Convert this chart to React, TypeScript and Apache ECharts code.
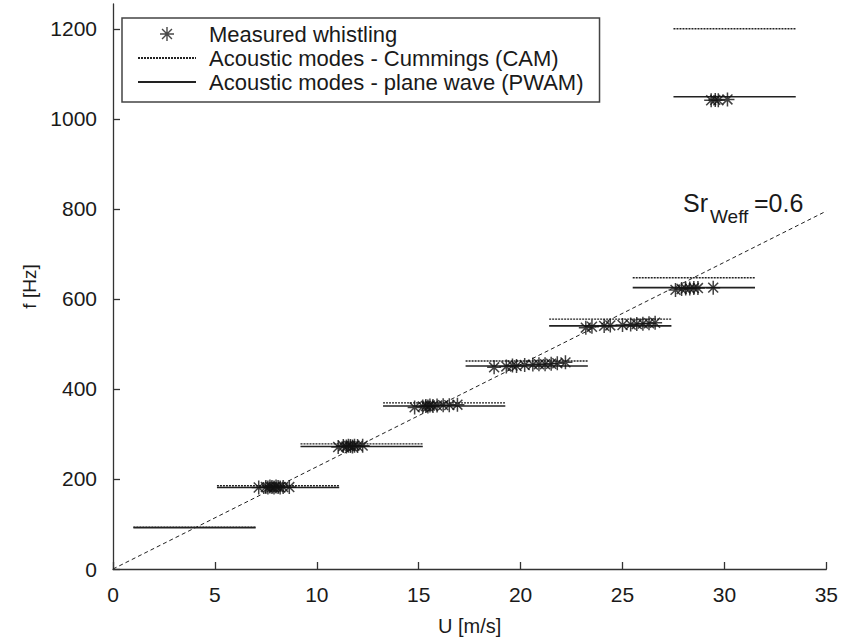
import React, { useEffect, useRef } from "react";
import * as echarts from "echarts";

// Acoustic mode frequency bands: each mode spans a velocity range
const modeUStart = [1.0, 5.1, 9.2, 13.25, 17.3, 21.4, 25.5, 27.5];
const modeUEnd = [7.0, 11.1, 15.2, 19.25, 23.3, 27.4, 31.5, 33.5];
const camFreq = [93, 185, 278, 369, 462, 555, 647, 1200];
const pwamFreq = [92, 181, 272, 362, 451, 540, 625, 1049];

// Measured whistling points
const whistleU = [
  7.15, 7.5, 7.6, 7.7, 7.8, 7.9, 8.0, 8.1, 8.2, 8.35, 8.65,
  11.05, 11.3, 11.45, 11.55, 11.65, 11.75, 11.85, 12.0, 12.25,
  14.8, 15.2, 15.35, 15.45, 15.55, 15.7, 15.9, 16.2, 16.5, 16.9,
  18.7, 19.3, 19.6, 19.8, 20.2, 20.6, 20.9, 21.2, 21.5, 21.8, 22.2,
  23.2, 23.5, 24.1, 24.4, 25.0, 25.4, 25.7, 26.0, 26.3, 26.6,
  27.6, 27.9, 28.1, 28.3, 28.5, 28.7, 29.45,
  29.35, 29.55, 29.7, 30.15,
];
const whistleF = [
  181, 182, 181, 183, 182, 181, 183, 182, 181, 182, 182,
  271, 273, 272, 274, 273, 272, 274, 273, 274,
  359, 361, 362, 361, 363, 362, 363, 364, 364, 365,
  448, 450, 452, 451, 453, 454, 455, 455, 456, 457, 459,
  536, 538, 540, 541, 542, 543, 544, 545, 546, 547,
  620, 622, 623, 623, 624, 624, 625,
  1041, 1042, 1041, 1043,
];

// Constant Strouhal number line
const srU = [0, 35];
const srF = [0, 795];

const xTicks = [0, 5, 10, 15, 20, 25, 30, 35];
const yTicks = [0, 200, 400, 600, 800, 1000, 1200];

const ASTERISK =
  "path://M0,-10L0,10M-10,0L10,0M-7.07,-7.07L7.07,7.07M-7.07,7.07L7.07,-7.07";

const FONT = "Liberation Sans, Arial, Helvetica, sans-serif";
const INK = "#1a1a1a";
const AXIS = "#333";

const NAME_W = "Measured whistling";
const NAME_CAM = "Acoustic modes - Cummings (CAM)";
const NAME_PWAM = "Acoustic modes - plane wave (PWAM)";

const hiddenMarker = { color: "transparent", borderColor: "transparent", borderWidth: 0 };

export default function App() {
  const ref = useRef<HTMLDivElement>(null);

  useEffect(() => {
    if (!ref.current) return;
    const chart = echarts.init(ref.current, undefined, { renderer: "svg" });

    const camSeries = modeUStart.map((u0, i) => ({
      name: NAME_CAM,
      type: "line",
      symbol: "none",
      silent: true,
      z: 2,
      itemStyle: hiddenMarker,
      lineStyle: { color: "#222", width: 1.4, type: [2, 1] },
      data: [
        [u0, camFreq[i]],
        [modeUEnd[i], camFreq[i]],
      ],
    }));

    const pwamSeries = modeUStart.map((u0, i) => ({
      name: NAME_PWAM,
      type: "line",
      symbol: "none",
      silent: true,
      z: 2,
      itemStyle: hiddenMarker,
      lineStyle: { color: "#222", width: 1.6, type: "solid" },
      data: [
        [u0, pwamFreq[i]],
        [modeUEnd[i], pwamFreq[i]],
      ],
    }));

    const option = {
      animation: false,
      backgroundColor: "#fff",
      textStyle: { fontFamily: FONT },
      grid: { left: 113, right: 14, top: 4, bottom: 69 },
      legend: {
        left: 122,
        top: 18,
        orient: "vertical",
        itemWidth: 58,
        itemHeight: 14,
        itemGap: 2,
        padding: [5, 16, 9, 15],
        borderColor: "#444",
        borderWidth: 1.5,
        backgroundColor: "#fff",
        selectedMode: false,
        textStyle: {
          fontFamily: FONT,
          fontSize: 22,
          color: INK,
          lineHeight: 22,
          padding: [0, 0, 0, 8],
        },
        data: [
          {
            name: NAME_W,
            icon: ASTERISK,
            itemStyle: { color: "transparent", borderColor: INK, borderWidth: 1.4 },
          },
          { name: NAME_CAM, itemStyle: hiddenMarker },
          { name: NAME_PWAM, itemStyle: hiddenMarker },
        ],
      },
      xAxis: {
        type: "value",
        min: 0,
        max: 35,
        interval: 5,
        name: "U [m/s]",
        nameLocation: "middle",
        nameGap: 47,
        nameTextStyle: { fontFamily: FONT, fontSize: 20, color: INK },
        axisLine: { lineStyle: { color: AXIS, width: 1.3 } },
        axisTick: { inside: true, length: 7, lineStyle: { color: AXIS, width: 1.3 }, customValues: xTicks },
        axisLabel: { fontFamily: FONT, fontSize: 21, color: INK, margin: 15, customValues: xTicks },
        splitLine: { show: false },
      },
      yAxis: {
        type: "value",
        min: 0,
        max: 1255,
        name: "f [Hz]",
        nameLocation: "middle",
        nameGap: 64,
        nameTextStyle: { fontFamily: FONT, fontSize: 19, color: INK },
        axisLine: { show: true, lineStyle: { color: AXIS, width: 1.3 } },
        axisTick: { show: true, inside: true, length: 7, lineStyle: { color: AXIS, width: 1.3 }, customValues: yTicks },
        axisLabel: {
          fontFamily: FONT,
          fontSize: 21,
          color: INK,
          margin: 16,
          customValues: yTicks,
          formatter: (v: number) => String(v),
        },
        splitLine: { show: false },
      },
      series: [
        {
          name: "Sr",
          type: "line",
          symbol: "none",
          silent: true,
          z: 1,
          lineStyle: { color: "#222", width: 1, type: [4, 3] },
          data: srU.map((u, i) => [u, srF[i]]),
        },
        ...camSeries,
        ...pwamSeries,
        {
          name: NAME_W,
          type: "scatter",
          symbol: ASTERISK,
          symbolSize: 14,
          z: 3,
          itemStyle: { color: "transparent", borderColor: "#111", borderWidth: 1.5 },
          data: whistleU.map((u, i) => [u, whistleF[i]]),
        },
      ],
      graphic: [
        {
          type: "text",
          left: 683,
          top: 190,
          style: { text: "Sr", fontFamily: FONT, fontSize: 25, fill: INK },
        },
        {
          type: "text",
          left: 710,
          top: 207,
          style: { text: "Weff", fontFamily: FONT, fontSize: 19, fill: INK },
        },
        {
          type: "text",
          left: 754,
          top: 190,
          style: { text: "=0.6", fontFamily: FONT, fontSize: 25, fill: INK },
        },
      ],
    };

    chart.setOption(option as any);
    return () => chart.dispose();
  }, []);

  return (
    <div
      ref={ref}
      style={{ position: "fixed", left: 0, top: 0, width: 841, height: 641 }}
    />
  );
}
